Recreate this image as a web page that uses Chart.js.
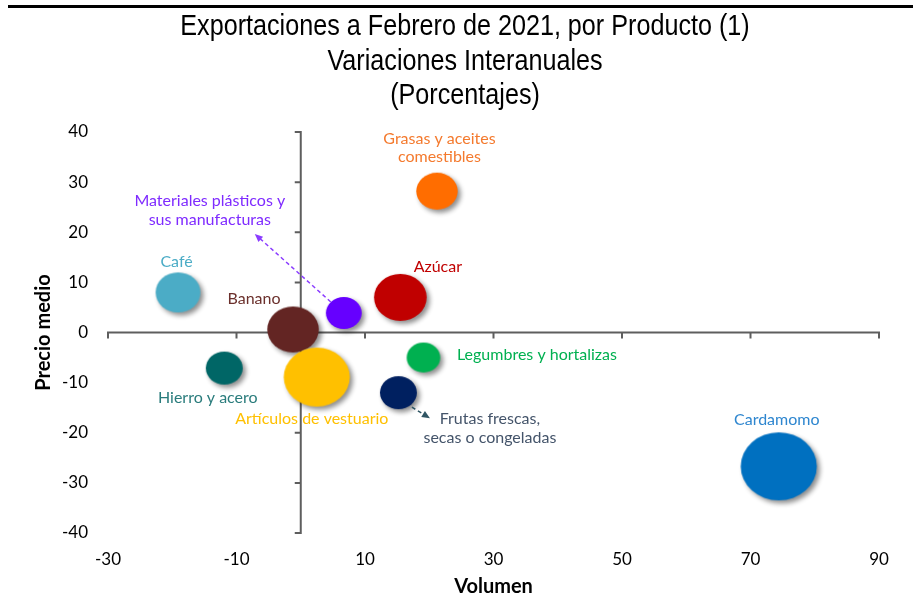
<!DOCTYPE html>
<html>
<head>
<meta charset="utf-8">
<script src="https://cdn.jsdelivr.net/npm/chart.js@4.4.1/dist/chart.umd.min.js"></script>
<style>
  html, body { margin: 0; padding: 0; background: #ffffff; }
  canvas { display: block; }
</style>
</head>
<body>
<canvas id="chart" width="913" height="597"></canvas>
<script>
// Productos y variaciones interanuales (%)
const products = [
  'Café', 'Grasas y aceites comestibles', 'Materiales plásticos y sus manufacturas',
  'Azúcar', 'Banano', 'Legumbres y hortalizas', 'Hierro y acero',
  'Artículos de vestuario', 'Frutas frescas, secas o congeladas', 'Cardamomo'
];
const volumen     = [-19.1, 21.2, 6.7, 15.5, -1.2, 19.1, -11.9, 2.5, 15.2, 74.4];
const precioMedio = [8.0, 28.2, 3.9, 7.0, 0.6, -5.0, -7.1, -8.9, -12.0, -26.7];
const bubbleSize  = [20, 18.5, 16, 23.5, 23, 15, 16.5, 29.5, 16.5, 34];

const xTickValues = [-30, -10, 10, 30, 50, 70, 90];
const yTickValues = [-40, -30, -20, -10, 0, 10, 20, 30, 40];

const titleLines = ['Exportaciones a Febrero de 2021, por Producto (1)', 'Variaciones Interanuales', '(Porcentajes)'];

// Estilos
const bubbleColors = ['#4BACC6', '#FF6D00', '#6600FF', '#C00000', '#632523', '#00B050', '#006666', '#FFC000', '#002060', '#0070C0'];
const textColors   = ['#4BACC6', '#F47A2E', '#7F2BFF', '#C00000', '#6B302C', '#00B050', '#2A7C7C', '#FFC000', '#44546A', '#2E86CF'];
const labelLines = [
  ['Café'], ['Grasas y aceites', 'comestibles'], ['Materiales plásticos y', 'sus manufacturas'],
  ['Azúcar'], ['Banano'], ['Legumbres y hortalizas'], ['Hierro y acero'],
  ['Artículos de vestuario'], ['Frutas frescas,', 'secas o congeladas'], ['Cardamomo']
];
// desplazamiento (px) del centro de la etiqueta respecto a la burbuja
const labelOffsets = [
  [-1.5, -31], [2.5, -52.5], [-134, -112], [37.5, -31], [-39, -31],
  [113.5, -3], [-16.5, 29.5], [-5, 41.5], [91.5, 26.5], [-2, -46]
];
// flechas discontinuas: [índice, dx0, dy0, dx1, dy1, color]
const arrows = [
  [2, -13, -11, -89, -79, '#8B3DFF'],
  [8, 13.5, 14.5, 31.5, 25.5, '#2F5563']
];

const LABEL_FONT = '16px Lato, "Open Sans", sans-serif';
const TITLE_FONT = '29px "Liberation Sans", Arial, sans-serif';
const ELLIPSE = 1.12;

// Sprite elíptico con sombra para cada burbuja
const spriteCache = {};
function bubbleSprite(color, r) {
  const key = color + r;
  if (spriteCache[key]) return spriteCache[key];
  const rx = r * ELLIPSE, ry = r, pad = 10;
  const c = document.createElement('canvas');
  c.width = Math.ceil(2 * rx + 2 * pad);
  c.height = Math.ceil(2 * ry + 2 * pad);
  const g = c.getContext('2d');
  g.shadowColor = 'rgba(0,0,0,0.45)';
  g.shadowBlur = 5;
  g.shadowOffsetX = 3;
  g.shadowOffsetY = 3;
  g.fillStyle = color;
  g.beginPath();
  g.ellipse(c.width / 2, c.height / 2, rx, ry, 0, 0, Math.PI * 2);
  g.fill();
  spriteCache[key] = c;
  return c;
}

const decor = {
  id: 'decor',
  beforeDraw(chart) {
    const ctx = chart.ctx;
    ctx.save();
    ctx.fillStyle = '#000000';
    ctx.fillRect(8, 5, 905, 3);
    // título en tipografía condensada
    ctx.font = TITLE_FONT;
    ctx.textAlign = 'center';
    ctx.textBaseline = 'middle';
    titleLines.forEach((t, k) => {
      ctx.save();
      ctx.translate(465, 27 + k * 34.5);
      ctx.scale(0.868, 1);
      ctx.fillText(t, 0, 0);
      ctx.restore();
    });
    ctx.restore();
  },
  beforeDatasetsDraw(chart) {
    const { ctx, scales: { x, y } } = chart;
    const x0 = x.getPixelForValue(0), y0 = y.getPixelForValue(0);
    ctx.save();
    ctx.strokeStyle = '#5E5E5E';
    ctx.lineWidth = 2;
    ctx.beginPath();
    ctx.moveTo(x.getPixelForValue(-30), y0);
    ctx.lineTo(x.getPixelForValue(90), y0);
    xTickValues.forEach(v => {
      const px = x.getPixelForValue(v);
      ctx.moveTo(px, y0 - 1);
      ctx.lineTo(px, y0 + 6);
    });
    ctx.moveTo(x0, y.getPixelForValue(40));
    ctx.lineTo(x0, y.getPixelForValue(-40));
    yTickValues.forEach(v => {
      const py = y.getPixelForValue(v);
      ctx.moveTo(x0 + 1, py);
      ctx.lineTo(x0 - 6, py);
    });
    ctx.stroke();
    ctx.restore();
  },
  afterDatasetsDraw(chart) {
    const ctx = chart.ctx;
    const pts = chart.getDatasetMeta(0).data;
    ctx.save();
    ctx.font = LABEL_FONT;
    ctx.textAlign = 'center';
    ctx.textBaseline = 'middle';
    labelLines.forEach((lines, i) => {
      const p = pts[i];
      ctx.fillStyle = textColors[i];
      lines.forEach((t, k) => {
        ctx.fillText(t, p.x + labelOffsets[i][0], p.y + labelOffsets[i][1] + k * 18.5);
      });
    });
    arrows.forEach(([i, dx0, dy0, dx1, dy1, color]) => {
      const p = pts[i];
      const sx = p.x + dx0, sy = p.y + dy0, ex = p.x + dx1, ey = p.y + dy1;
      const ang = Math.atan2(ey - sy, ex - sx);
      ctx.strokeStyle = color;
      ctx.fillStyle = color;
      ctx.lineWidth = 1.5;
      ctx.setLineDash([4, 3]);
      ctx.beginPath();
      ctx.moveTo(sx, sy);
      ctx.lineTo(ex - 5 * Math.cos(ang), ey - 5 * Math.sin(ang));
      ctx.stroke();
      ctx.setLineDash([]);
      ctx.beginPath();
      ctx.moveTo(ex, ey);
      ctx.lineTo(ex - 8 * Math.cos(ang) + 3.5 * Math.sin(ang), ey - 8 * Math.sin(ang) - 3.5 * Math.cos(ang));
      ctx.lineTo(ex - 8 * Math.cos(ang) - 3.5 * Math.sin(ang), ey - 8 * Math.sin(ang) + 3.5 * Math.cos(ang));
      ctx.closePath();
      ctx.fill();
    });
    ctx.restore();
  }
};

const data = {
  datasets: [{
    label: 'Exportaciones',
    data: products.map((p, i) => ({ x: volumen[i], y: precioMedio[i], r: bubbleSize[i] })),
    backgroundColor: bubbleColors,
    borderWidth: 0,
    pointStyle: ctx => bubbleSprite(bubbleColors[ctx.dataIndex], bubbleSize[ctx.dataIndex]),
    clip: false
  }]
};

new Chart(document.getElementById('chart'), {
  type: 'bubble',
  data,
  plugins: [decor],
  options: {
    responsive: false,
    devicePixelRatio: 1,
    animation: false,
    events: [],
    layout: { padding: { left: 15, right: 0, top: 132, bottom: 0 } },
    plugins: {
      legend: { display: false },
      tooltip: { enabled: false },
      title: { display: false }
    },
    scales: {
      x: {
        type: 'linear',
        min: -30, max: 90,
        afterBuildTicks: s => { s.ticks = xTickValues.map(v => ({ value: v })); },
        afterFit: s => { s.height = 64; },
        grid: { display: false, drawTicks: false },
        border: { display: false },
        ticks: { color: '#000000', padding: 16, font: { family: 'Lato, sans-serif', size: 17 } },
        title: { display: true, text: 'Volumen', color: '#000000', padding: { top: 0, bottom: -2 },
                 font: { family: 'Lato, sans-serif', size: 20, weight: 'bold' } }
      },
      y: {
        type: 'linear',
        min: -40, max: 40,
        afterBuildTicks: s => { s.ticks = yTickValues.map(v => ({ value: v })); },
        afterFit: s => { s.width = 93; },
        grid: { display: false, drawTicks: false },
        border: { display: false },
        ticks: { color: '#000000', padding: 20, font: { family: 'Lato, sans-serif', size: 17 } },
        title: { display: true, text: 'Precio medio', color: '#000000', padding: { top: 17, bottom: 0 },
                 font: { family: 'Lato, sans-serif', size: 20, weight: 'bold' } }
      },
      yRight: {
        type: 'linear',
        position: 'right',
        display: true,
        afterFit: s => { s.width = 32; },
        grid: { display: false, drawTicks: false },
        border: { display: false },
        ticks: { display: false }
      }
    }
  }
});
</script>
</body>
</html>
